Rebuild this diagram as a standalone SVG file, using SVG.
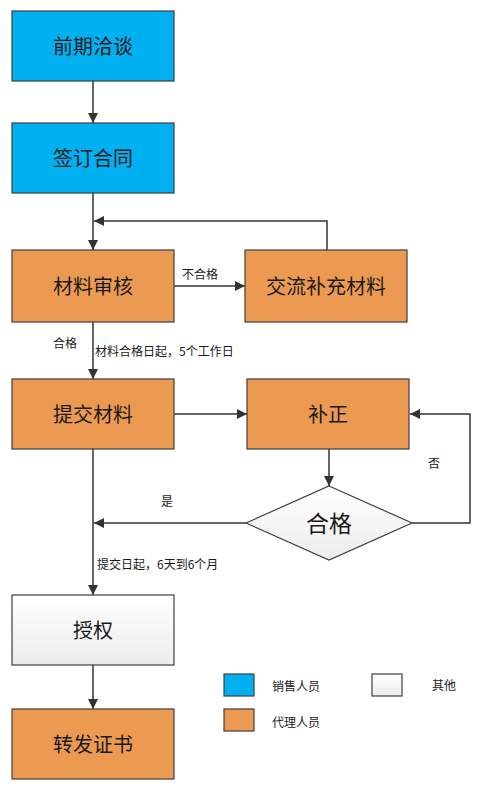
<svg xmlns="http://www.w3.org/2000/svg" width="485" height="790" viewBox="0 0 485 790">
<defs>
<style>
.box{stroke:#3f3f3f;stroke-width:1.2}
.blue{fill:#00B0F0}
.orange{fill:#EC9A52}
.white{fill:url(#wg)}
.lbl{font-family:"Microsoft YaHei","Noto Sans CJK SC",sans-serif;font-size:20px;fill:#1a1a1a;text-anchor:middle;dominant-baseline:central}
.big{font-size:23px}
.sm{font-family:"Noto Sans CJK SC",sans-serif;font-size:12px;fill:#1a1a1a;dominant-baseline:central}
.cn{fill:none;stroke:#333;stroke-width:1.5}
</style>
<linearGradient id="wg" x1="0" y1="0" x2="0" y2="1">
<stop offset="0" stop-color="#ffffff"/>
<stop offset="1" stop-color="#ececec"/>
</linearGradient>
<marker id="ah" viewBox="0 0 10 10" refX="10" refY="5" markerWidth="10" markerHeight="10" markerUnits="userSpaceOnUse" orient="auto">
<path d="M0,0 L10,5 L0,10 Z" fill="#333"/>
</marker>
</defs>
<rect width="485" height="790" fill="#fff"/>
<g id="connectors">
<line class="cn" x1="93" y1="81" x2="93" y2="123" marker-end="url(#ah)"/>
<line class="cn" x1="93" y1="193" x2="93" y2="250" marker-end="url(#ah)"/>
<polyline class="cn" points="327,250 327,221 94,221" marker-end="url(#ah)"/>
<line class="cn" x1="174" y1="286" x2="245" y2="286" marker-end="url(#ah)"/>
<line class="cn" x1="93" y1="322" x2="93" y2="379" marker-end="url(#ah)"/>
<line class="cn" x1="174" y1="414" x2="247" y2="414" marker-end="url(#ah)"/>
<line class="cn" x1="329" y1="449" x2="329" y2="486" marker-end="url(#ah)"/>
<polyline class="cn" points="412,523 470,523 470,414 410,414" marker-end="url(#ah)"/>
<line class="cn" x1="246" y1="523" x2="94" y2="523" marker-end="url(#ah)"/>
<line class="cn" x1="93" y1="449" x2="93" y2="595" marker-end="url(#ah)"/>
<line class="cn" x1="93" y1="665" x2="93" y2="709" marker-end="url(#ah)"/>
<text class="sm" x="182" y="273">不合格</text>
<text class="sm" x="53" y="342">合格</text>
<text class="sm" x="95" y="350">材料合格日起，5个工作日</text>
<text class="sm" x="161" y="500">是</text>
<text class="sm" x="428" y="462">否</text>
<text class="sm" x="97" y="563">提交日起，6天到6个月</text>
</g>
<g id="n1"><rect class="box blue" x="12" y="11" width="162" height="70"/><text class="lbl" x="93" y="45">前期洽谈</text></g>
<g id="n2"><rect class="box blue" x="12" y="123" width="162" height="70"/><text class="lbl" x="93" y="157">签订合同</text></g>
<g id="n3"><rect class="box orange" x="12" y="250" width="162" height="72"/><text class="lbl" x="93" y="285">材料审核</text></g>
<g id="n4"><rect class="box orange" x="245" y="250" width="162" height="72"/><text class="lbl" x="326" y="285">交流补充材料</text></g>
<g id="n5"><rect class="box orange" x="12" y="379" width="162" height="70"/><text class="lbl" x="93" y="413">提交材料</text></g>
<g id="n6"><rect class="box orange" x="247" y="379" width="162" height="70"/><text class="lbl" x="328" y="413">补正</text></g>
<g id="n7"><polygon class="box white" points="329,486 412,523 329,560 246,523"/><text class="lbl big" x="329" y="522">合格</text></g>
<g id="n8"><rect class="box white" x="12" y="595" width="162" height="70"/><text class="lbl" x="93" y="629">授权</text></g>
<g id="n9"><rect class="box orange" x="12" y="709" width="162" height="70"/><text class="lbl" x="93" y="743">转发证书</text></g>
<g id="legend">
<rect class="box blue" x="224" y="674" width="30" height="22"/>
<text class="sm" x="272" y="685">销售人员</text>
<rect class="box white" x="372" y="674" width="30" height="22"/>
<text class="sm" x="432" y="684">其他</text>
<rect class="box orange" x="224" y="709" width="30" height="22"/>
<text class="sm" x="272" y="721">代理人员</text>
</g>
</svg>
